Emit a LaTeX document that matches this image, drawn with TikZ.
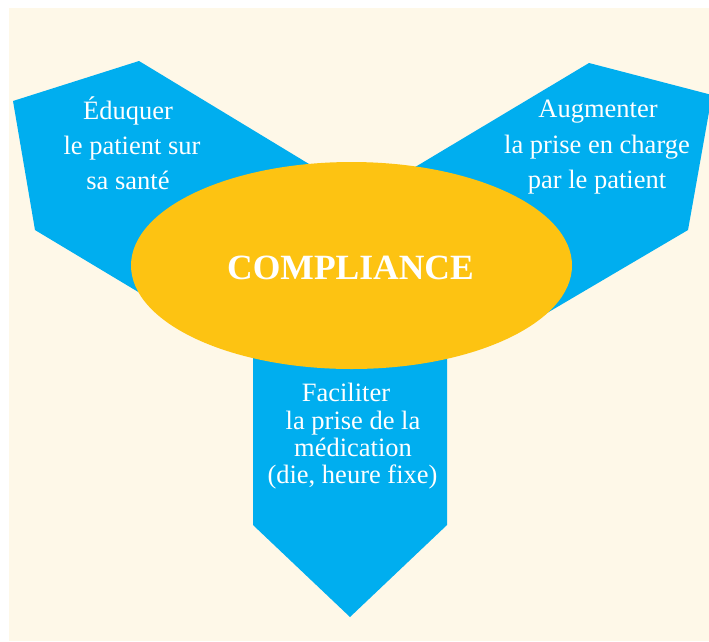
\documentclass[tikz,border=0pt]{standalone}
\usepackage{fontspec}
\setmainfont{Liberation Serif}
\definecolor{cream}{RGB}{254,248,232}
\definecolor{arrowblue}{RGB}{0,174,239}
\definecolor{gold}{RGB}{253,195,18}
\begin{document}
\begin{tikzpicture}[x=1pt,y=-1pt,
  txt/.style={anchor=base,inner sep=0pt,text=white,font=\fontsize{26.5}{27}\selectfont},
  title/.style={anchor=base,inner sep=0pt,text=white,font=\fontsize{35.5}{36}\selectfont\bfseries}]
\useasboundingbox (0,0) rectangle (709,641);
\fill[white] (0,0) rectangle (709,641);
\fill[cream] (9,8) rectangle (709,641);
% arrows
\fill[arrowblue] (139,61) -- (13,101) -- (35,230) -- (200,329) -- (351,265) -- (380,207) -- cycle;
\fill[arrowblue] (589,63) -- (712,95) -- (688,230) -- (530,323) -- (351,265) -- (330,218) -- cycle;
\fill[arrowblue] (253,300) -- (447,300) -- (447,525) -- (350,617) -- (253,525) -- cycle;
% ellipse
\fill[gold] (351.5,265.5) ellipse [x radius=220.5, y radius=103.5];
\node[title] (c) at (350.5,279) {COMPLIANCE};
% left text
\node[txt] (e1) at (128,119) {Éduquer};
\node[txt] (e2) at (132,154) {le patient sur};
\node[txt] (e3) at (128,189) {sa santé};
% right text
\node[txt] (a1) at (598,117) {Augmenter};
\node[txt] (a2) at (597,153) {la prise en charge};
\node[txt] (a3) at (597,188) {par le patient};
% bottom text
\node[txt] (f1) at (346,401) {Faciliter};
\node[txt] (f2) at (353,429) {la prise de la};
\node[txt] (f3) at (353,456) {médication};
\node[txt] (f4) at (352.5,483) {(die, heure fixe)};
\end{tikzpicture}
\end{document}
